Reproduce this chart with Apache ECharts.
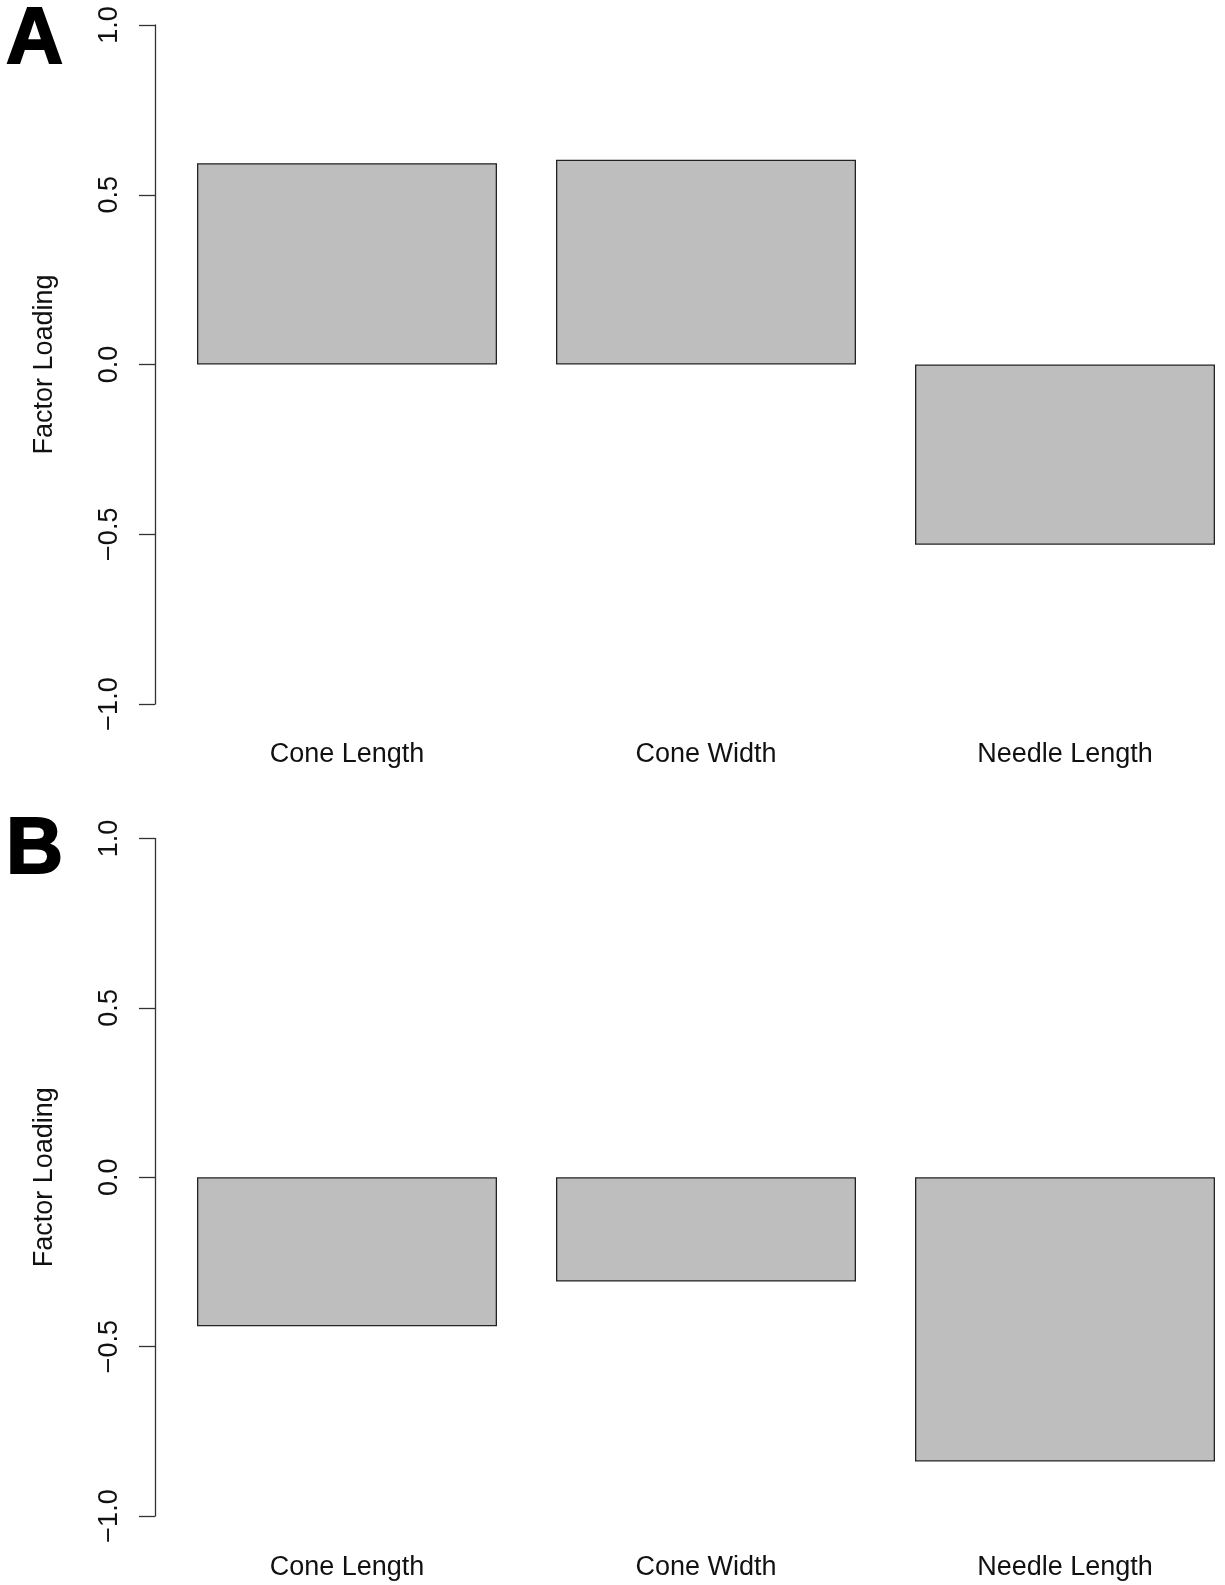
<!DOCTYPE html>
<html>
<head>
<meta charset="utf-8">
<script src="https://cdn.jsdelivr.net/npm/echarts@6/dist/echarts.min.js"></script>
<style>
  html, body { margin: 0; padding: 0; background: #fff; }
  #chart { width: 1225px; height: 1585px; }
</style>
</head>
<body>
<div id="chart"></div>
<script>
const categories = ['Cone Length', 'Cone Width', 'Needle Length']
const loadingsA = [0.593, 0.603, -0.531]
const loadingsB = [-0.44, -0.308, -0.839]
const panelLabels = ['A', 'B']
const yName = 'Factor Loading'

const font = 'Liberation Sans, Arial, Helvetica, sans-serif'
const ink = '#111'

const fmtTick = (v) => v.toFixed(1).replace('-', '\u2212')

const makeXAxis = (gridIndex, margin) => ({
  type: 'category',
  gridIndex: gridIndex,
  data: categories,
  axisLine: { show: false },
  axisTick: { show: false },
  axisLabel: {
    color: ink,
    fontFamily: font,
    fontSize: 27,
    margin: margin,
  },
})

const makeYAxis = (gridIndex) => ({
  type: 'value',
  gridIndex: gridIndex,
  min: -1,
  max: 1,
  interval: 0.5,
  offset: 12.5,
  name: yName,
  nameLocation: 'middle',
  nameRotate: 90,
  nameGap: 97,
  nameTextStyle: {
    color: ink,
    fontFamily: font,
    fontSize: 27,
  },
  axisLine: {
    show: true,
    lineStyle: { color: '#333', width: 1.3 },
  },
  axisTick: {
    show: true,
    length: 16,
    lineStyle: { color: '#333', width: 1.3 },
  },
  axisLabel: {
    rotate: 90,
    color: ink,
    fontFamily: font,
    fontSize: 27,
    margin: 32,
    formatter: fmtTick,
  },
  splitLine: { show: false },
})

const makeSeries = (idx, values) => ({
  type: 'bar',
  xAxisIndex: idx,
  yAxisIndex: idx,
  barWidth: 300,
  itemStyle: {
    color: '#bebebe',
    borderColor: '#222',
    borderWidth: 1.3,
  },
  silent: true,
  data: values,
})

const panelText = (label, top) => ({
  type: 'text',
  left: 5,
  top: top,
  style: {
    text: label,
    fill: '#000',
    stroke: '#000',
    lineWidth: 2,
    font: 'bold 79px ' + font,
  },
})

const chart = echarts.init(document.getElementById('chart'), null, { renderer: 'canvas' })
const option = {
  backgroundColor: '#fff',
  animation: false,
  grid: [
    { left: 167.5, width: 1077, top: 25, height: 679, outerBoundsMode: 'none', containLabel: false },
    { left: 167.5, width: 1077, top: 838.5, height: 677.5, outerBoundsMode: 'none', containLabel: false },
  ],
  xAxis: [makeXAxis(0, 37), makeXAxis(1, 38)],
  yAxis: [makeYAxis(0), makeYAxis(1)],
  series: [makeSeries(0, loadingsA), makeSeries(1, loadingsB)],
  graphic: [panelText(panelLabels[0], 1), panelText(panelLabels[1], 811)],
}
chart.setOption(option)
</script>
</body>
</html>
